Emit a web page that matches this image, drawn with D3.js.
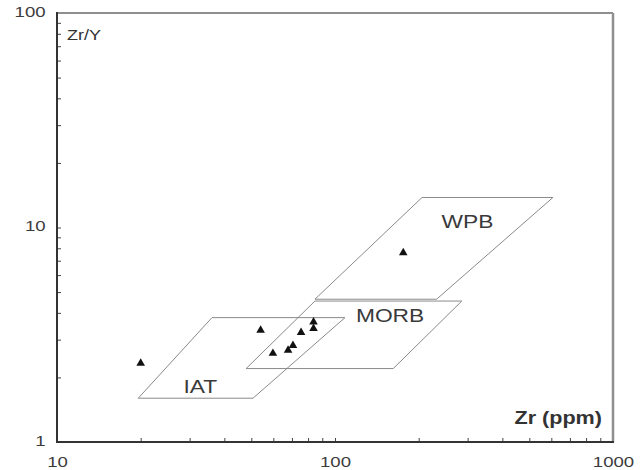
<!DOCTYPE html>
<html>
<head>
<meta charset="utf-8">
<script src="https://cdn.jsdelivr.net/npm/d3@7"></script>
<style>
  html, body { margin: 0; padding: 0; background: #fff; }
  svg { display: block; }
  text { font-family: "Liberation Sans", Arial, sans-serif; }
</style>
</head>
<body>
<svg id="chart" width="641" height="470"></svg>
<script>
// ---- data ----
const sampleZr = [20.0, 54.0, 59.8, 67.8, 70.6, 75.5, 83.7, 83.7, 176];
const sampleZrY = [2.33, 3.32, 2.59, 2.68, 2.82, 3.24, 3.38, 3.63, 7.63];

const fieldNames = ["IAT", "MORB", "WPB"];
const iatZr = [19.6, 36.1, 108.6, 50.7];
const iatZrY = [1.6, 3.8, 3.8, 1.6];
const morbZr = [47.9, 84.7, 285.8, 162];
const morbZrY = [2.2, 4.54, 4.54, 2.2];
const wpbZr = [84.7, 205.6, 608, 232];
const wpbZrY = [4.63, 13.8, 13.8, 4.63];
const fieldLabelZr = [32.8, 157.8, 299.7];
const fieldLabelZrY = [1.69, 3.63, 9.95];

const xDomain = [10, 1000];
const yDomain = [1, 100];
const xTickLabels = ["10", "100", "1000"];
const yTickLabels = ["1", "10", "100"];
const xTitle = "Zr (ppm)";
const yTitle = "Zr/Y";

// ---- layout ----
const svg = d3.select("#chart");
const mLeft = 57, mRight = 613, mTop = 13, mBottom = 442;
const stretch = 1.2;

const x = d3.scaleLog().domain(xDomain).range([mLeft, mRight]);
const y = d3.scaleLog().domain(yDomain).range([mBottom, mTop]);

const isPow10 = d => Math.abs(Math.log10(d) - Math.round(Math.log10(d))) < 1e-9;

// fields
const fields = [
  { zr: iatZr, zy: iatZrY },
  { zr: morbZr, zy: morbZrY },
  { zr: wpbZr, zy: wpbZrY }
];
const line = d3.line().x(d => x(d[0])).y(d => y(d[1])).curve(d3.curveLinearClosed);
svg.append("g").selectAll("path").data(fields).join("path")
  .attr("d", f => line(f.zr.map((v, i) => [v, f.zy[i]])))
  .attr("fill", "none")
  .attr("stroke", "#8a8a8a")
  .attr("stroke-width", 1);

// field labels
svg.append("g").selectAll("text").data(fieldNames).join("text")
  .attr("transform", (d, i) => `translate(${x(fieldLabelZr[i])},${y(fieldLabelZrY[i])}) scale(${stretch},1)`)
  .attr("text-anchor", "middle")
  .attr("font-size", 19)
  .attr("fill", "#3a3a3a")
  .text(d => d);

// axes (ticks inward)
const xAxis = d3.axisBottom(x)
  .tickValues(x.ticks())
  .tickSizeInner(-4).tickSizeOuter(0).tickPadding(14)
  .tickFormat(d => isPow10(d) ? xTickLabels[Math.round(Math.log10(d)) - 1] : "");
const gx = svg.append("g").attr("transform", `translate(0,${mBottom})`).call(xAxis);
gx.select(".domain").remove();
gx.selectAll("line").attr("stroke", "#444");
gx.selectAll("text")
  .attr("font-size", 15.5).attr("font-family", "Liberation Sans, Arial, sans-serif")
  .attr("fill", "#3c3c3c")
  .attr("transform", `scale(${stretch},1)`);

const yAxis = d3.axisLeft(y)
  .tickValues(y.ticks())
  .tickSizeInner(-4).tickSizeOuter(0).tickPadding(9.5)
  .tickFormat(d => isPow10(d) ? yTickLabels[Math.round(Math.log10(d))] : "");
const gy = svg.append("g").attr("transform", `translate(${mLeft},0)`).call(yAxis);
gy.select(".domain").remove();
gy.selectAll("line").attr("stroke", "#444");
gy.selectAll("text")
  .attr("font-size", 15.5).attr("font-family", "Liberation Sans, Arial, sans-serif")
  .attr("fill", "#3c3c3c")
  .attr("dy", "0.2em")
  .attr("transform", `scale(${stretch},1)`);

// frame
svg.append("line").attr("x1", mLeft).attr("x2", mRight).attr("y1", mTop).attr("y2", mTop)
  .attr("stroke", "#8f8f8f").attr("stroke-width", 2);
svg.append("line").attr("x1", mRight).attr("x2", mRight).attr("y1", mTop).attr("y2", mBottom)
  .attr("stroke", "#8f8f8f").attr("stroke-width", 2.5);
svg.append("line").attr("x1", mLeft).attr("x2", mLeft).attr("y1", mTop - 1).attr("y2", mBottom)
  .attr("stroke", "#333").attr("stroke-width", 2);
svg.append("line").attr("x1", mLeft - 1).attr("x2", mRight + 1).attr("y1", mBottom).attr("y2", mBottom)
  .attr("stroke", "#333").attr("stroke-width", 2);

// titles
svg.append("text")
  .attr("transform", `translate(${mLeft + 10},40) scale(${stretch},1)`)
  .attr("font-size", 15).attr("fill", "#333")
  .text(yTitle);
svg.append("text")
  .attr("transform", `translate(602,424) scale(${stretch},1)`)
  .attr("text-anchor", "end")
  .attr("font-size", 18).attr("font-weight", "bold").attr("fill", "#333")
  .text(xTitle);

// samples
svg.append("g").selectAll("path").data(sampleZr).join("path")
  .attr("transform", (d, i) => `translate(${x(d)},${y(sampleZrY[i])})`)
  .attr("d", d3.symbol(d3.symbolTriangle, 32))
  .attr("fill", "#111");
</script>
</body>
</html>
